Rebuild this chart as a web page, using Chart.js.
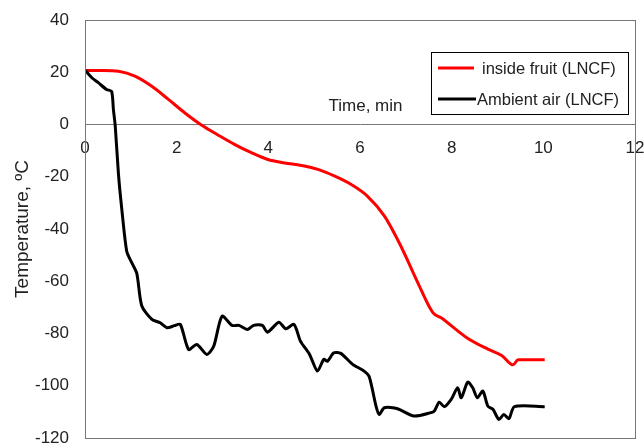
<!DOCTYPE html>
<html>
<head>
<meta charset="utf-8">
<script src="https://cdn.jsdelivr.net/npm/chart.js@4.4.0/dist/chart.umd.min.js"></script>
<style>
html,body{margin:0;padding:0;background:#fff;}
#wrap{width:644px;height:445px;}
</style>
</head>
<body>
<div id="wrap"><canvas id="c" width="644" height="445"></canvas></div>
<script>
// ---- data ----
const xTicks = [0, 2, 4, 6, 8, 10, 12];
const yTicks = [-120, -100, -80, -60, -40, -20, 0, 20, 40];

const fruitLabel = "inside fruit (LNCF)";
const fruitTime = [0, 0.4, 0.73, 1.09, 1.45, 1.82, 2.18, 2.54, 2.90, 3.27, 3.63, 3.99, 4.36, 4.72, 5.08, 5.45, 5.81, 6.16, 6.53, 6.89, 7.26, 7.59, 7.77, 8.32, 8.79, 9.1, 9.34, 9.45, 10.03];
const fruitTemp = [20.7, 20.7, 20.4, 18.5, 14.7, 9.6, 4.4, -0.2, -4.0, -7.7, -10.8, -13.4, -14.7, -15.7, -17.2, -19.8, -23, -27.4, -35, -46.5, -60.5, -72, -74, -81.5, -86, -88.5, -92, -90, -90];

const airLabel = "Ambient air (LNCF)";
const airTime = [0, 0.15, 0.29, 0.47, 0.58, 0.62, 0.66, 0.73, 0.80, 0.91, 1.02, 1.13, 1.24, 1.46, 1.64, 1.79, 1.95, 2.08, 2.26, 2.44, 2.66, 2.81, 2.99, 3.21, 3.36, 3.54, 3.68, 3.87, 3.98, 4.23, 4.38, 4.56, 4.70, 4.9, 5.07, 5.21, 5.29, 5.43, 5.58, 5.84, 6.09, 6.2, 6.35, 6.42, 6.53, 6.82, 7.18, 7.55, 7.62, 7.73, 7.84, 7.99, 8.13, 8.21, 8.35, 8.46, 8.56, 8.68, 8.79, 8.90, 9.03, 9.14, 9.25, 9.37, 10.03];
const airTemp = [20.8, 17.9, 16, 13.4, 12.7, 5.7, -0.6, -19, -31.9, -48.5, -52.9, -57, -69.5, -74.6, -75.9, -77.8, -77, -76.5, -86.1, -84.2, -88, -84.8, -73.4, -76.9, -76.9, -78.5, -76.9, -76.9, -79.5, -75.7, -78.2, -76.5, -82.9, -88, -94.4, -89.9, -90.6, -87.4, -87.6, -91.8, -94.4, -96.5, -107.8, -111, -108.4, -108.8, -111.6, -110.3, -109.7, -106.3, -108, -105.2, -100.8, -104.6, -98.6, -100.8, -104.6, -102, -107.8, -109, -112.9, -111, -112.6, -108, -108];

const xTitle = "Time, min";
const yTitle = "Temperature, \u00BAC";

const FONT = "'Liberation Sans', Arial, sans-serif";
const toPts = (xs, ys) => xs.map((x, i) => ({x: x, y: ys[i]}));

const boxPlugin = {
  id: 'boxPlugin',
  afterDraw(chart) {
    const {ctx, chartArea: a, scales} = chart;
    ctx.save();
    // frame
    ctx.strokeStyle = '#777';
    ctx.lineWidth = 1;
    ctx.strokeRect(Math.round(a.left) + 0.5, Math.round(a.top) + 0.5, Math.round(a.right - a.left), Math.round(a.bottom - a.top));
    // x axis title above the axis line
    const y0 = scales.y.getPixelForValue(0);
    ctx.fillStyle = '#222';
    ctx.font = "17px " + FONT;
    ctx.textAlign = 'center';
    ctx.textBaseline = 'middle';
    ctx.fillText(xTitle, scales.x.getPixelForValue(6.12), y0 - 18);
    // legend
    const lx = a.right - 204, ly = a.top + 32, lw = 197, lh = 62;
    ctx.fillStyle = '#fff';
    ctx.fillRect(lx, ly, lw, lh);
    ctx.strokeStyle = '#000';
    ctx.lineWidth = 1;
    ctx.strokeRect(lx + 0.5, ly + 0.5, lw, lh);
    const entries = [
      {label: fruitLabel, color: '#ff0000', x1: lx + 7, x2: lx + 43, tx: lx + 51, y: ly + 16},
      {label: airLabel, color: '#000000', x1: lx + 7, x2: lx + 45, tx: lx + 46, y: ly + 47}
    ];
    ctx.font = "16.5px " + FONT;
    ctx.textAlign = 'left';
    entries.forEach(e => {
      ctx.strokeStyle = e.color;
      ctx.lineWidth = 3;
      ctx.beginPath();
      ctx.moveTo(e.x1, e.y);
      ctx.lineTo(e.x2, e.y);
      ctx.stroke();
      ctx.fillStyle = '#222';
      ctx.fillText(e.label, e.tx, e.y + 1);
    });
    ctx.restore();
  }
};

new Chart(document.getElementById('c'), {
  type: 'line',
  data: {
    datasets: [
      {label: airLabel, data: toPts(airTime, airTemp), borderColor: '#000000', borderWidth: 3, pointRadius: 0, tension: 0.25, fill: false},
      {label: fruitLabel, data: toPts(fruitTime, fruitTemp), borderColor: '#ff0000', borderWidth: 3, pointRadius: 0, cubicInterpolationMode: 'monotone', fill: false}
    ]
  },
  options: {
    responsive: false,
    animation: false,
    devicePixelRatio: 1,
    layout: {padding: {top: 20, right: 9, bottom: 7, left: 0}},
    plugins: {legend: {display: false}, tooltip: {enabled: false}},
    scales: {
      x: {
        type: 'linear', min: 0, max: 12,
        position: {y: 0},
        afterBuildTicks: s => { s.ticks = xTicks.map(v => ({value: v})); },
        afterFit: s => { s.paddingLeft = 0; s.paddingRight = 0; },
        ticks: {color: '#222', font: {family: FONT, size: 17}, padding: 14, maxRotation: 0, autoSkip: false},
        grid: {display: false, drawTicks: false},
        border: {display: true, color: '#777', width: 1}
      },
      y: {
        type: 'linear', min: -120, max: 40,
        afterBuildTicks: s => { s.ticks = yTicks.map(v => ({value: v})); },
        afterFit: s => { s.width = 85; s.paddingTop = 0; s.paddingBottom = 0; },
        ticks: {color: '#222', font: {family: FONT, size: 17}, padding: 16, autoSkip: false},
        grid: {display: false, drawTicks: false},
        border: {display: true, color: '#777', width: 1},
        title: {display: true, text: yTitle, color: '#222', font: {family: FONT, size: 19}, padding: {top: 11, bottom: 0}}
      }
    }
  },
  plugins: [boxPlugin]
});
</script>
</body>
</html>
